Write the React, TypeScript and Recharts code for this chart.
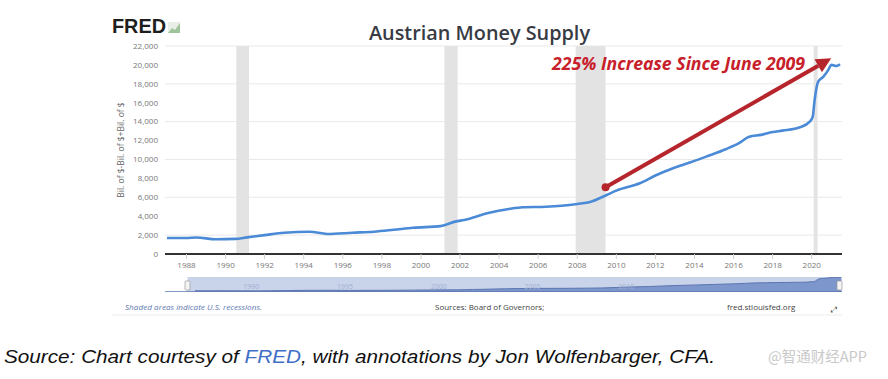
import React from "react";
import {
  Area,
  AreaChart,
  CartesianGrid,
  ComposedChart,
  Line,
  ReferenceArea,
  ReferenceLine,
  XAxis,
  YAxis,
} from "recharts";

// Austrian money supply, bil. of $
const years = [
  1987.0, 1988.0, 1988.5, 1989.5, 1990.5, 1991.1, 1992.0, 1993.0, 1994.3, 1995.2,
  1996.5, 1997.6, 1998.6, 1999.6, 2001.0, 2001.8, 2002.2, 2003.5, 2004.5, 2005.2,
  2006.4, 2007.2, 2008.0, 2008.7, 2009.5, 2010.0, 2011.2, 2012.0, 2012.9, 2013.8,
  2014.6, 2015.6, 2016.3, 2016.8, 2017.4, 2018.0, 2018.5, 2019.4, 2019.9, 2020.05,
  2020.15, 2020.33, 2020.6, 2020.85, 2021.0, 2021.27, 2021.45,
];
const supply = [
  1690, 1700, 1740, 1560, 1600, 1760, 2000, 2250, 2360, 2120,
  2250, 2360, 2560, 2780, 2950, 3450, 3600, 4370, 4760, 4950,
  5000, 5100, 5290, 5530, 6240, 6700, 7480, 8300, 9070, 9700,
  10300, 11080, 11750, 12400, 12600, 12900, 13050, 13400, 14000, 14500,
  16300, 18230, 18760, 19470, 20000, 19890, 20070,
];

const yTicks = [0, 2000, 4000, 6000, 8000, 10000, 12000, 14000, 16000, 18000, 20000, 22000];
const xTicks = [1988, 1990, 1992, 1994, 1996, 1998, 2000, 2002, 2004, 2006, 2008, 2010, 2012, 2014, 2016, 2018, 2020];
const navTicks = [1990, 1995, 2000, 2005, 2010];

const recessionStarts = [1990.55, 2001.2, 2007.92, 2020.1];
const recessionEnds = [1991.2, 2001.88, 2009.45, 2020.3];

const arrowFrom = { year: 2009.45, value: 7060 };
const arrowTo = { year: 2021.0, value: 20700 };

const data = years.map((year, i) => ({ year, value: supply[i] }));

const RED = "#b5252b";
const BLUE = "#4b8ad6";
const fmt = (v: number) => v.toLocaleString("en-US");

function ArrowShape(props: any) {
  const { x1, y1, x2, y2 } = props;
  const ang = Math.atan2(y2 - y1, x2 - x1);
  const len = 15;
  const half = 7.5;
  const bx = x2 - len * Math.cos(ang);
  const by = y2 - len * Math.sin(ang);
  const px = -Math.sin(ang) * half;
  const py = Math.cos(ang) * half;
  return (
    <g>
      <line x1={x1} y1={y1} x2={bx} y2={by} stroke={RED} strokeWidth={4} />
      <circle cx={x1} cy={y1} r={4} fill={RED} />
      <polygon points={`${x2},${y2} ${bx + px},${by + py} ${bx - px},${by - py}`} fill={RED} />
    </g>
  );
}

export default function App() {
  return (
    <div
      style={{
        position: "absolute",
        left: 0,
        top: 0,
        width: 888,
        height: 379,
        background: "#fff",
        fontFamily: "'Open Sans', sans-serif",
      }}
    >
      <div style={{ position: "absolute", left: 0, top: 0 }}>
        <ComposedChart
          width={888}
          height={280}
          data={data}
          margin={{ top: 46, right: 46, bottom: 0, left: 0 }}
        >
          <CartesianGrid vertical={false} stroke="#e9e9e9" />
          {recessionStarts.map((s, i) => (
            <ReferenceArea
              key={s}
              x1={s}
              x2={recessionEnds[i]}
              fill="#e3e3e3"
              fillOpacity={1}
              stroke="none"
            />
          ))}
          <XAxis
            dataKey="year"
            type="number"
            domain={[1986.9, 2021.55]}
            ticks={xTicks}
            allowDataOverflow
            height={26}
            axisLine={{ stroke: "#333", strokeWidth: 2 }}
            tickLine={{ stroke: "#d0d0d0" }}
            tickSize={5}
            tickMargin={3}
            tick={{ fontSize: 8, fill: "#777" }}
          />
          <YAxis
            width={165}
            domain={[0, 22000]}
            ticks={yTicks}
            tickFormatter={fmt}
            axisLine={false}
            tickLine={false}
            tickSize={0}
            tickMargin={7}
            tick={{ fontSize: 8, fill: "#777" }}
            label={{
              value: "Bil. of $-Bil. of $+Bil. of $",
              angle: -90,
              position: "insideLeft",
              offset: 121,
              style: { textAnchor: "middle", fontSize: 8.5, fill: "#666" },
            }}
          />
          <Line
            type="monotone"
            dataKey="value"
            stroke={BLUE}
            strokeWidth={2.6}
            dot={false}
            isAnimationActive={false}
          />
          <ReferenceLine
            segment={[
              { x: arrowFrom.year, y: arrowFrom.value },
              { x: arrowTo.year, y: arrowTo.value },
            ]}
            shape={ArrowShape}
          />
        </ComposedChart>
      </div>

      {/* navigator strip */}
      <div style={{ position: "absolute", left: 165, top: 277 }}>
        <AreaChart
          width={677}
          height={15}
          data={data}
          margin={{ top: 0, right: 0, bottom: 0, left: 0 }}
        >
          <ReferenceArea x1={1986.6} x2={2021.5} fill="#c9d3ea" fillOpacity={1} stroke="none" />
          <XAxis
            dataKey="year"
            type="number"
            domain={[1985.4, 2021.5]}
            ticks={navTicks}
            mirror
            axisLine={{ stroke: "#5b76b1", strokeWidth: 1.5 }}
            tickLine={false}
            tickSize={0}
            tickMargin={3}
            tick={{ fontSize: 7, fill: "#a3b1d2" }}
          />
          <YAxis hide domain={[0, 20500]} />
          <Area
            type="monotone"
            dataKey="value"
            stroke="#5b76b1"
            strokeWidth={1}
            fill="#7d97cc"
            fillOpacity={1}
            isAnimationActive={false}
          />
        </AreaChart>
      </div>

      <svg
        width={888}
        height={379}
        style={{ position: "absolute", left: 0, top: 0, pointerEvents: "none" }}
      >
        {/* FRED logo */}
        <text
          x={112}
          y={33}
          fontFamily="'Liberation Sans', Arial, sans-serif"
          fontWeight={700}
          fontSize={20}
          fill="#1e1e1e"
          textLength={54}
          lengthAdjust="spacingAndGlyphs"
        >
          FRED
        </text>
        <rect x={168} y={22} width={12} height={11} fill="#e9efe6" />
        <polygon points="168,33 172,28 175,30 180,23 180,33" fill="#9fc39a" />

        <text
          x={369}
          y={40}
          fontSize={19}
          fontWeight={600}
          fill="#383b44"
          textLength={221}
          lengthAdjust="spacingAndGlyphs"
        >
          Austrian Money Supply
        </text>

        <text
          x={552}
          y={70}
          fontSize={17.5}
          fontWeight={700}
          fontStyle="italic"
          fill="#c8202a"
          textLength={253}
          lengthAdjust="spacingAndGlyphs"
        >
          225% Increase Since June 2009
        </text>

        {/* navigator handles */}
        <rect x={185} y={281} width={5} height={9} rx={1} fill="#f4f4f4" stroke="#999" strokeWidth={0.7} />
        <rect x={837} y={281} width={5} height={9} rx={1} fill="#f4f4f4" stroke="#999" strokeWidth={0.7} />

        {/* footer */}
        <text
          x={125}
          y={310}
          fontSize={8}
          fontStyle="italic"
          fill="#5d78b0"
          textLength={137}
          lengthAdjust="spacingAndGlyphs"
        >
          Shaded areas indicate U.S. recessions.
        </text>
        <text x={435} y={310} fontSize={8} fill="#444">
          Sources: Board of Governors;
        </text>
        <text x={727} y={310} fontSize={8} fill="#444">
          fred.stlouisfed.org
        </text>
        <text x={831} y={312} fontSize={8} fill="#555" fontFamily="'DejaVu Sans', sans-serif">
          ⤢
        </text>
        <line x1={112} y1={315} x2={842} y2={315} stroke="#ececec" />

        {/* caption */}
        <text
          x={4}
          y={363}
          fontFamily="'Liberation Sans', Arial, sans-serif"
          fontStyle="italic"
          fontSize={18}
          fill="#111"
          textLength={711}
          lengthAdjust="spacingAndGlyphs"
        >
          Source: Chart courtesy of <tspan fill="#3f6fc6">FRED</tspan>, with annotations by Jon Wolfenbarger, CFA.
        </text>
        <text
          x={768}
          y={362}
          fontFamily="'Noto Sans CJK SC', sans-serif"
          fontSize={14.5}
          fill="#c9c9c9"
        >
          @智通财经APP
        </text>
      </svg>
    </div>
  );
}
